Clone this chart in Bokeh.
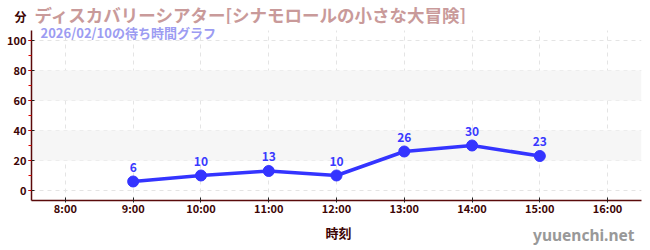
from bokeh.plotting import figure
from bokeh.layouts import column
from bokeh.models import (Label, BoxAnnotation, FixedTicker, SingleIntervalTicker,
                          ColumnDataSource, Range1d)
from bokeh.core.properties import value
from bokeh.embed import file_html
from bokeh.resources import INLINE

# data
hours = [9, 10, 11, 12, 13, 14, 15]
waits = [6, 10, 13, 10, 26, 30, 23]
tick_hours = [8, 9, 10, 11, 12, 13, 14, 15, 16]
tick_labels = ["8:00", "9:00", "10:00", "11:00", "12:00", "13:00", "14:00", "15:00", "16:00"]
band_ranges = [(20, 40), (60, 80)]
title_text = "ディスカバリーシアター[シナモロールの小さな大冒険]"
subtitle_text = "2026/02/10の待ち時間グラフ"
unit_text = "分"
xlabel_text = "時刻"
watermark = "yuuenchi.net"

JP = "Noto Sans CJK JP"
DARK = "#3d0505"
W = 650
HEAD_H = 24
MAIN_H = 198
FOOT_H = 28


def blank_fig(h):
    f = figure(width=W, height=h, output_backend="svg", toolbar_location=None,
               x_range=Range1d(0, W), y_range=Range1d(0, h),
               x_axis_location=None, y_axis_location=None, min_border=0)
    f.min_border_left = f.min_border_right = f.min_border_top = f.min_border_bottom = 0
    f.frame_align = False
    f.outline_line_color = None
    f.xgrid.visible = False
    f.ygrid.visible = False
    return f


def lab(fig, txt, x, y, size, color, align="left", font=JP, style="bold"):
    fig.add_layout(Label(x=x, y=y, x_units="screen", y_units="screen",
                         text=txt, text_font=font, text_font_size=size,
                         text_font_style=style, text_color=color,
                         text_align=align, text_baseline="middle", level="overlay"))


# header
head = blank_fig(HEAD_H)
lab(head, unit_text, 14, HEAD_H - 16, "12px", DARK)
lab(head, title_text, 34, HEAD_H - 14, "17.5px", "#c99a9a")

# main chart
Y_TOP = 106.67
p = figure(width=W, height=MAIN_H, output_backend="svg", toolbar_location=None,
           x_range=Range1d(7.5, 16.5), y_range=Range1d(-6.67, 110.67),
           min_border_left=31, min_border_right=9, min_border_top=0, min_border_bottom=22)
p.frame_align = False
p.outline_line_color = None

for lo, hi in band_ranges:
    p.add_layout(BoxAnnotation(bottom=lo, top=hi, fill_color="#f6f6f6", fill_alpha=1.0,
                               line_color=None, level="underlay"))

p.xaxis.ticker = FixedTicker(ticks=tick_hours)
p.xaxis.major_label_overrides = {h: l for h, l in zip(tick_hours, tick_labels)}
p.yaxis.ticker = SingleIntervalTicker(interval=20, num_minor_ticks=2)
p.yaxis.bounds = (-6.67, Y_TOP)

for ax in (p.xaxis, p.yaxis):
    ax.axis_line_color = "#5a0a0a"
    ax.axis_line_width = 1.5
    ax.major_tick_line_color = "#222222"
    ax.major_tick_in = 3
    ax.major_label_text_font = JP
    ax.major_label_text_font_style = "bold"
    ax.major_label_text_font_size = "11px"
    ax.major_label_text_color = DARK
p.yaxis.major_tick_out = 3
p.xaxis.major_tick_out = 2
p.xaxis.major_label_standoff = -3
p.yaxis.major_label_standoff = 2
p.xaxis.minor_tick_line_color = None
p.yaxis.minor_tick_line_color = "#dd0000"
p.yaxis.minor_tick_in = 0
p.yaxis.minor_tick_out = 3

for g in (p.xgrid, p.ygrid):
    g.grid_line_color = "#e4e4e4"
    g.grid_line_dash = "4 4"
    g.grid_line_width = 1
p.xgrid.ticker = FixedTicker(ticks=tick_hours)

# blank strip above the value axis top
p.add_layout(BoxAnnotation(bottom=Y_TOP, fill_color="white", fill_alpha=1.0,
                           line_color=None, level="underlay"))

src = ColumnDataSource(dict(x=hours, y=waits, t=[str(v) for v in waits]))
p.line("x", "y", source=src, line_color="#3434ff", line_width=3.5)
p.scatter("x", "y", source=src, size=11, fill_color="#3434ff", line_color="#3434ff")
p.text("x", "y", text="t", source=src, y_offset=-14, text_align="center",
       text_baseline="middle", text_font_size="12px", text_font_style="bold",
       text_color="#3a3aff", text_font=value(JP))

frame_h = MAIN_H - 22
lab(p, subtitle_text, 9, frame_h - 7.5, "13px", "#9c9cf2")

# footer
foot = blank_fig(FOOT_H)
lab(foot, xlabel_text, 338, FOOT_H - 10, "13px", DARK, align="center")
lab(foot, watermark, 634, FOOT_H - 12, "15.5px", "#999999", align="right", font="Noto Sans")

layout = column(head, p, foot, spacing=0)
open("out.html", "w").write(file_html(layout, INLINE))
